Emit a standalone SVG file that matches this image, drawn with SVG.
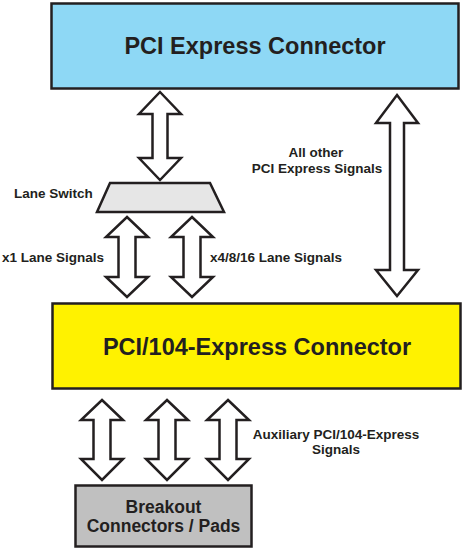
<svg xmlns="http://www.w3.org/2000/svg" width="464" height="550" viewBox="0 0 464 550">
<style>
.box{stroke:#231f20;stroke-width:2.5}
.arr{fill:#fff;stroke:#231f20;stroke-width:2.5;stroke-linejoin:miter}
text{font-family:"Liberation Sans",Arial,sans-serif;font-weight:bold;fill:#231f20}
.t1{font-size:23.5px}
.t2{font-size:17.5px}
.lb{font-size:13.5px}
</style>
<rect width="464" height="550" fill="#fff"/>
<g id="pcie-connector">
<rect class="box" x="51.5" y="3.5" width="407" height="85" fill="#8ed8f5"/>
<text class="t1" x="255" y="54" text-anchor="middle">PCI Express Connector</text>
</g>
<g id="lane-switch">
<polygon class="box" points="110,183 210,183 224,212 97,212" fill="#e6e6e6"/>
<text class="lb" x="14" y="198">Lane Switch</text>
</g>
<g id="pc104-connector">
<rect class="box" x="52.5" y="303.5" width="408" height="85" fill="#fff200"/>
<text class="t1" x="257" y="355" text-anchor="middle">PCI/104-Express Connector</text>
</g>
<g id="breakout">
<rect class="box" x="75.5" y="485.5" width="176" height="61" fill="#c0c0c0"/>
<text class="t2" x="163.5" y="513" text-anchor="middle">Breakout</text>
<text class="t2" x="163.5" y="532" text-anchor="middle">Connectors / Pads</text>
</g>
<g id="connectors">
<polygon class="arr" points="160,92 181,114 167.5,114 167.5,158 181,158 160,180 139,158 152.5,158 152.5,114 139,114"/>
<polygon class="arr" points="127,217 148,237 135.5,237 135.5,277 148,277 127,297 106,277 118.5,277 118.5,237 106,237"/>
<polygon class="arr" points="192,217 213,237 200.5,237 200.5,277 213,277 192,297 171,277 183.5,277 183.5,237 171,237"/>
<polygon class="arr" points="397,95 418,123 404,123 404,270 418,270 397,296 376,270 390,270 390,123 376,123"/>
<polygon class="arr" points="102,400 123,420 110.5,420 110.5,459 123,459 102,480 81,459 93.5,459 93.5,420 81,420"/>
<polygon class="arr" points="167,400 188,420 175.5,420 175.5,459 188,459 167,480 146,459 158.5,459 158.5,420 146,420"/>
<polygon class="arr" points="228,400 249,420 236.5,420 236.5,459 249,459 228,480 207,459 219.5,459 219.5,420 207,420"/>
</g>
<g id="labels">
<text class="lb" x="316" y="157" text-anchor="middle">All other</text>
<text class="lb" x="317" y="173" text-anchor="middle">PCI Express Signals</text>
<text class="lb" x="2" y="262">x1 Lane Signals</text>
<text class="lb" x="210" y="262">x4/8/16 Lane Signals</text>
<text class="lb" x="336" y="439" text-anchor="middle">Auxiliary PCI/104-Express</text>
<text class="lb" x="336" y="454" text-anchor="middle">Signals</text>
</g>
</svg>
